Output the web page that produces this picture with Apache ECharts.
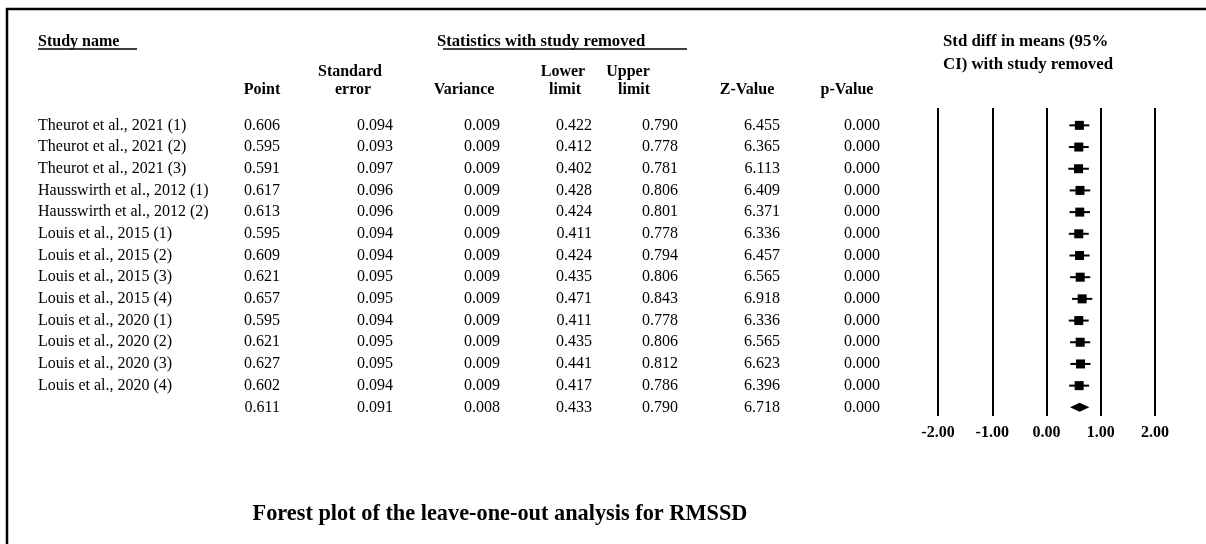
<!DOCTYPE html>
<html>
<head>
<meta charset="utf-8">
<script src="https://cdn.jsdelivr.net/npm/echarts@6/dist/echarts.min.js"></script>
<style>
html,body{margin:0;padding:0;background:#fff;}
#chart{width:1206px;height:544px;}
</style>
</head>
<body>
<div id="chart"></div>
<script>
// ---- data ----
const studyNames = [
  "Theurot et al., 2021 (1)", "Theurot et al., 2021 (2)", "Theurot et al., 2021 (3)",
  "Hausswirth et al., 2012 (1)", "Hausswirth et al., 2012 (2)",
  "Louis et al., 2015 (1)", "Louis et al., 2015 (2)", "Louis et al., 2015 (3)", "Louis et al., 2015 (4)",
  "Louis et al., 2020 (1)", "Louis et al., 2020 (2)", "Louis et al., 2020 (3)", "Louis et al., 2020 (4)",
  ""
];
const pointEst = [0.606, 0.595, 0.591, 0.617, 0.613, 0.595, 0.609, 0.621, 0.657, 0.595, 0.621, 0.627, 0.602, 0.611];
const stdError = [0.094, 0.093, 0.097, 0.096, 0.096, 0.094, 0.094, 0.095, 0.095, 0.094, 0.095, 0.095, 0.094, 0.091];
const variance = [0.009, 0.009, 0.009, 0.009, 0.009, 0.009, 0.009, 0.009, 0.009, 0.009, 0.009, 0.009, 0.009, 0.008];
const lowerLimit = [0.422, 0.412, 0.402, 0.428, 0.424, 0.411, 0.424, 0.435, 0.471, 0.411, 0.435, 0.441, 0.417, 0.433];
const upperLimit = [0.790, 0.778, 0.781, 0.806, 0.801, 0.778, 0.794, 0.806, 0.843, 0.778, 0.806, 0.812, 0.786, 0.790];
const zValue = [6.455, 6.365, 6.113, 6.409, 6.371, 6.336, 6.457, 6.565, 6.918, 6.336, 6.565, 6.623, 6.396, 6.718];
const pValue = [0.000, 0.000, 0.000, 0.000, 0.000, 0.000, 0.000, 0.000, 0.000, 0.000, 0.000, 0.000, 0.000, 0.000];
const summaryRow = 13;
const xTicks = [-2, -1, 0, 1, 2];
const titleText = "Forest plot of the leave-one-out analysis for RMSSD";

// ---- chart ----
const FONT = '"Liberation Serif", "Times New Roman", serif';
const chart = echarts.init(document.getElementById('chart'), null, {renderer: 'canvas'});

const forestData = pointEst.map((p, i) => [p, lowerLimit[i], upperLimit[i], i, i === summaryRow ? 1 : 0]);

chart.setOption({
  backgroundColor: '#fff',
  animation: false,
  grid: {left: 938, top: 108, width: 217, height: 308, containLabel: false},
  xAxis: {
    type: 'value', min: xTicks[0], max: xTicks[xTicks.length - 1], interval: 1,
    axisLine: {show: false}, axisTick: {show: false},
    splitLine: {show: true, lineStyle: {color: '#000', width: 2}},
    axisLabel: {
      show: true, margin: 9, color: '#000',
      fontFamily: FONT, fontWeight: 'bold', fontSize: 16,
      formatter: v => v.toFixed(2)
    }
  },
  yAxis: {
    type: 'value', inverse: true, min: -0.8, max: 13.4,
    show: false, splitLine: {show: false}
  },
  series: [{
    type: 'custom',
    data: forestData,
    encode: {x: [0, 1, 2], y: 3},
    renderItem: function (params, api) {
      const p = api.value(0), lo = api.value(1), hi = api.value(2), row = api.value(3), isSum = api.value(4);
      const c = api.coord([p, row]);
      const l = api.coord([lo, row]);
      const h = api.coord([hi, row]);
      if (isSum) {
        return {
          type: 'polygon',
          shape: {points: [[l[0], c[1]], [c[0], c[1] - 4.5], [h[0], c[1]], [c[0], c[1] + 4.5]]},
          style: {fill: '#000'}
        };
      }
      return {
        type: 'group',
        children: [
          {type: 'line', shape: {x1: l[0], y1: c[1], x2: h[0], y2: c[1]}, style: {stroke: '#000', lineWidth: 2}},
          {type: 'rect', shape: {x: c[0] - 4.5, y: c[1] - 4.5, width: 9, height: 9}, style: {fill: '#000'}}
        ]
      };
    }
  }]
});

// ---- table text (rows aligned with forest plot y scale) ----
function txt(text, x, y, align, bold, size, sx) {
  return {
    type: 'text', x: x, y: y, silent: true, scaleX: sx || 1,
    style: {
      text: text, fill: '#000', textAlign: align || 'left', textVerticalAlign: 'middle',
      font: (bold ? 'bold ' : '') + (size || 16) + 'px ' + FONT
    }
  };
}
const g = [];
// frame
g.push({type: 'line', shape: {x1: 6, y1: 9, x2: 1206, y2: 9}, style: {stroke: '#000', lineWidth: 2.5}});
g.push({type: 'line', shape: {x1: 7, y1: 8, x2: 7, y2: 544}, style: {stroke: '#000', lineWidth: 2.5}});
// group headers
g.push(txt('Study name', 38, 42, 'left', true));
g.push({type: 'line', shape: {x1: 38, y1: 49, x2: 137, y2: 49}, style: {stroke: '#000', lineWidth: 1.5}});
g.push(txt('Statistics with study removed', 437, 42, 'left', true, 16, 1.04));
g.push({type: 'line', shape: {x1: 443, y1: 49, x2: 687, y2: 49}, style: {stroke: '#000', lineWidth: 1.5}});
g.push(txt('Std diff in means (95%', 943, 42, 'left', true, 16, 1.05));
g.push(txt('CI) with study removed', 943, 65, 'left', true, 16, 1.05));
// column headers
g.push(txt('Point', 262, 90, 'center', true));
g.push(txt('Standard', 350, 72, 'center', true));
g.push(txt('error', 353, 90, 'center', true));
g.push(txt('Variance', 464, 90, 'center', true));
g.push(txt('Lower', 563, 72, 'center', true));
g.push(txt('limit', 565, 90, 'center', true));
g.push(txt('Upper', 628, 72, 'center', true));
g.push(txt('limit', 634, 90, 'center', true));
g.push(txt('Z-Value', 747, 90, 'center', true));
g.push(txt('p-Value', 847, 90, 'center', true));

const cols = [
  {vals: pointEst, right: 280},
  {vals: stdError, right: 393},
  {vals: variance, right: 500},
  {vals: lowerLimit, right: 592},
  {vals: upperLimit, right: 678},
  {vals: zValue, right: 780},
  {vals: pValue, right: 880}
];
for (let i = 0; i < studyNames.length; i++) {
  const y = chart.convertToPixel({gridIndex: 0}, [0, i])[1];
  if (studyNames[i]) g.push(txt(studyNames[i], 38, y, 'left', false));
  cols.forEach(c => g.push(txt(c.vals[i].toFixed(3), c.right, y, 'right', false)));
}
// title
g.push(txt(titleText, 500, 514, 'center', true, 24, 0.93));

chart.setOption({graphic: {elements: g}});
</script>
</body>
</html>
